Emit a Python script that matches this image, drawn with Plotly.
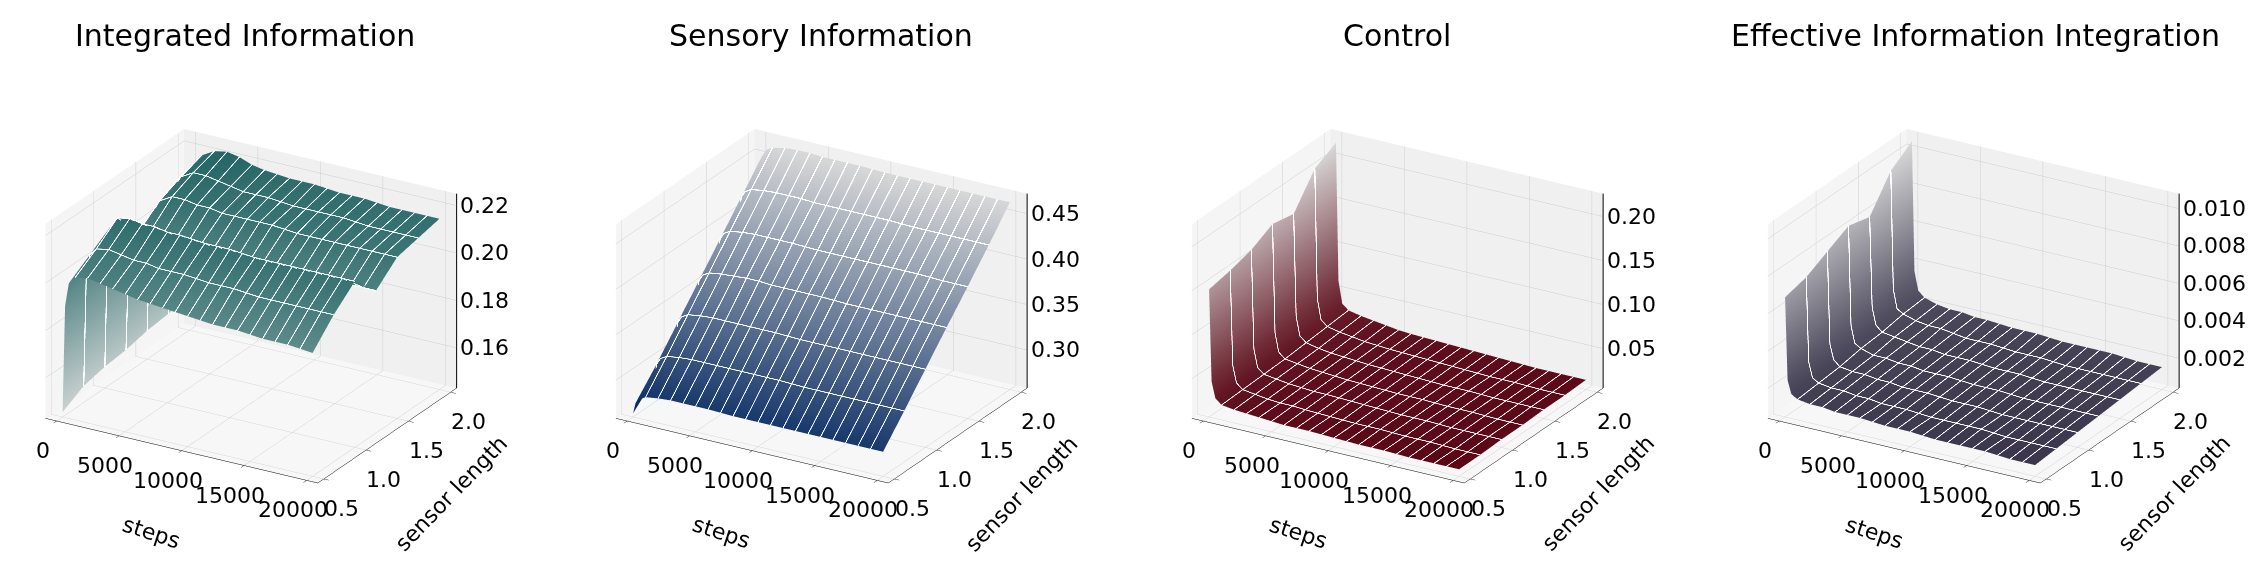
import plotly.graph_objects as go

# training steps (columns) and sensor lengths (rows)
steps = [0, 200, 500, 1000, 2000, 3000, 4000, 5000, 6000, 8000, 10000, 12000, 14000, 16000, 18000, 20000]
sensor_length = [0.5, 0.75, 1.0, 1.25, 1.5, 1.75, 2.0]

integrated_info = [
    [0.145, 0.190, 0.200, 0.203, 0.204, 0.203, 0.202, 0.201, 0.200, 0.199, 0.198, 0.197, 0.197, 0.196, 0.196, 0.195],
    [0.150, 0.196, 0.206, 0.209, 0.210, 0.209, 0.208, 0.208, 0.207, 0.207, 0.206, 0.206, 0.205, 0.205, 0.205, 0.205],
    [0.152, 0.200, 0.212, 0.216, 0.217, 0.216, 0.216, 0.215, 0.215, 0.214, 0.214, 0.213, 0.213, 0.213, 0.213, 0.213],
    [0.153, 0.190, 0.200, 0.204, 0.206, 0.206, 0.205, 0.205, 0.205, 0.204, 0.204, 0.204, 0.203, 0.203, 0.203, 0.203],
    [0.155, 0.195, 0.206, 0.211, 0.214, 0.214, 0.213, 0.213, 0.212, 0.212, 0.212, 0.211, 0.211, 0.211, 0.211, 0.211],
    [0.156, 0.198, 0.210, 0.215, 0.218, 0.218, 0.217, 0.216, 0.215, 0.215, 0.214, 0.214, 0.214, 0.213, 0.213, 0.213],
    [0.158, 0.200, 0.212, 0.218, 0.221, 0.222, 0.221, 0.219, 0.218, 0.217, 0.217, 0.216, 0.216, 0.215, 0.215, 0.215],
]

sensory_info = [
    [0.262, 0.274, 0.279, 0.283, 0.285, 0.286, 0.286, 0.286, 0.286, 0.285, 0.285, 0.285, 0.285, 0.285, 0.285, 0.285],
    [0.284, 0.301, 0.308, 0.312, 0.314, 0.315, 0.315, 0.315, 0.315, 0.315, 0.315, 0.314, 0.314, 0.314, 0.314, 0.314],
    [0.313, 0.331, 0.338, 0.342, 0.344, 0.345, 0.345, 0.345, 0.345, 0.345, 0.344, 0.344, 0.344, 0.344, 0.344, 0.344],
    [0.342, 0.361, 0.368, 0.372, 0.374, 0.375, 0.376, 0.376, 0.375, 0.375, 0.375, 0.374, 0.374, 0.374, 0.374, 0.374],
    [0.372, 0.391, 0.398, 0.402, 0.404, 0.405, 0.405, 0.405, 0.405, 0.404, 0.404, 0.404, 0.404, 0.404, 0.403, 0.403],
    [0.402, 0.421, 0.428, 0.432, 0.434, 0.435, 0.435, 0.435, 0.434, 0.434, 0.434, 0.434, 0.433, 0.433, 0.433, 0.433],
    [0.432, 0.451, 0.458, 0.462, 0.465, 0.466, 0.466, 0.465, 0.465, 0.465, 0.464, 0.464, 0.464, 0.464, 0.464, 0.464],
]

control = [
    [0.150, 0.046, 0.028, 0.022, 0.020, 0.019, 0.018, 0.017, 0.016, 0.016, 0.015, 0.014, 0.014, 0.013, 0.013, 0.013],
    [0.155, 0.048, 0.029, 0.023, 0.021, 0.019, 0.018, 0.018, 0.017, 0.016, 0.015, 0.015, 0.014, 0.014, 0.013, 0.013],
    [0.162, 0.050, 0.030, 0.024, 0.022, 0.020, 0.019, 0.018, 0.018, 0.017, 0.016, 0.015, 0.015, 0.014, 0.014, 0.014],
    [0.175, 0.052, 0.031, 0.025, 0.023, 0.021, 0.020, 0.019, 0.018, 0.017, 0.016, 0.016, 0.015, 0.015, 0.014, 0.014],
    [0.170, 0.054, 0.033, 0.027, 0.024, 0.022, 0.021, 0.020, 0.019, 0.018, 0.017, 0.016, 0.016, 0.015, 0.015, 0.015],
    [0.205, 0.058, 0.035, 0.029, 0.026, 0.024, 0.022, 0.021, 0.020, 0.019, 0.018, 0.017, 0.016, 0.016, 0.015, 0.015],
    [0.218, 0.062, 0.037, 0.031, 0.028, 0.026, 0.024, 0.022, 0.021, 0.020, 0.019, 0.018, 0.017, 0.016, 0.016, 0.016],
]

effective_integration = [
    [0.0068, 0.0024, 0.0017, 0.0015, 0.0014, 0.0014, 0.0013, 0.0013, 0.0013, 0.0012, 0.0012, 0.0011, 0.0011, 0.0011, 0.0010, 0.0010],
    [0.0071, 0.0026, 0.0018, 0.0016, 0.0015, 0.0015, 0.0014, 0.0014, 0.0013, 0.0013, 0.0012, 0.0012, 0.0012, 0.0011, 0.0011, 0.0011],
    [0.0077, 0.0028, 0.0020, 0.0017, 0.0016, 0.0016, 0.0015, 0.0015, 0.0014, 0.0014, 0.0013, 0.0013, 0.0012, 0.0012, 0.0012, 0.0012],
    [0.0083, 0.0030, 0.0021, 0.0019, 0.0017, 0.0017, 0.0016, 0.0016, 0.0015, 0.0015, 0.0014, 0.0014, 0.0013, 0.0013, 0.0013, 0.0013],
    [0.0080, 0.0032, 0.0023, 0.0020, 0.0019, 0.0018, 0.0017, 0.0017, 0.0016, 0.0016, 0.0015, 0.0015, 0.0014, 0.0014, 0.0014, 0.0014],
    [0.0097, 0.0034, 0.0024, 0.0022, 0.0020, 0.0019, 0.0019, 0.0018, 0.0017, 0.0017, 0.0016, 0.0016, 0.0015, 0.0015, 0.0015, 0.0015],
    [0.0105, 0.0036, 0.0026, 0.0023, 0.0021, 0.0020, 0.0020, 0.0019, 0.0019, 0.0018, 0.0018, 0.0017, 0.0017, 0.0017, 0.0016, 0.0016],
]

titles = ["Integrated Information", "Sensory Information", "Control", "Effective Information Integration"]
x_ticks = [0, 5000, 10000, 15000, 20000]
y_ticks = [0.5, 1.0, 1.5, 2.0]
z_ticks = [
    [0.16, 0.18, 0.20, 0.22],
    [0.30, 0.35, 0.40, 0.45],
    [0.05, 0.10, 0.15, 0.20],
    [0.002, 0.004, 0.006, 0.008, 0.010],
]
z_formats = ["{:.2f}", "{:.2f}", "{:.2f}", "{:.3f}"]
z_ranges = [[0.143, 0.225], [0.258, 0.472], [0.005, 0.226], [0.0004, 0.0108]]
x_range = [-900, 20900]
y_range = [0.43, 2.07]
colorscales = [
    [[0, "#eef7f7"], [1, "#2a7777"]],
    [[0, "#002a6e"], [1, "#ffffff"]],
    [[0, "#6a0a1a"], [1, "#ffffff"]],
    [[0, "#45405a"], [1, "#ffffff"]],
]
domains_x = [[0.0, 0.215], [0.25, 0.47], [0.505, 0.725], [0.76, 0.98]]
title_x = [0.105, 0.36, 0.615, 0.871]

font_family = "DejaVu Sans"
tick_size = 22
grid = "rgb(205,205,205)"
edge = "rgba(255,255,255,0.13)"

fig = go.Figure()
data = [integrated_info, sensory_info, control, effective_integration]


def ax(ticks, rng, bg, line=True):
    return dict(
        title=dict(text=""), tickvals=ticks, range=rng, showticklabels=False,
        showbackground=True, backgroundcolor=bg,
        gridcolor=grid, gridwidth=1,
        showline=line, linecolor="black", linewidth=1,
        zeroline=False, showspikes=False,
        ticks="outside" if line else "", tickcolor="black", ticklen=6,
    )


def label(x, y, z, text, dx, dy, anchor="center", angle=0):
    return dict(x=x, y=y, z=z, text=text, showarrow=False, textangle=angle,
                xanchor=anchor, yanchor="middle", xshift=dx, yshift=dy,
                font=dict(size=tick_size, family=font_family, color="black"))


for i, z in enumerate(data):
    scene = "scene" if i == 0 else f"scene{i + 1}"
    zr = z_ranges[i]
    # label anchors just inside the box so plotly does not drop them
    x_in = x_range[1] - 1
    y_lo, y_hi = y_range[0] + 0.001, y_range[1] - 0.001
    z_lo = zr[0] + (zr[1] - zr[0]) * 0.001

    fig.add_trace(go.Surface(
        x=steps, y=sensor_length, z=z,
        colorscale=colorscales[i], showscale=False,
        lighting=dict(ambient=0.85, diffuse=0.35, specular=0.02, roughness=0.9, fresnel=0.0),
        lightposition=dict(x=-1000, y=-2000, z=5000),
        contours=dict(
            x=dict(show=True, start=0, end=20000, size=1000, color=edge, width=1),
            y=dict(show=True, start=0.5, end=2.0, size=0.25, color=edge, width=1),
        ),
        scene=scene, hoverinfo="skip",
    ))
    # z axis line on the back right edge, as matplotlib draws it
    fig.add_trace(go.Scatter3d(
        x=[x_range[1], x_range[1]], y=[y_range[1], y_range[1]], z=zr,
        mode="lines", line=dict(color="black", width=2),
        scene=scene, hoverinfo="skip", showlegend=False,
    ))

    ann = []
    for t in x_ticks:
        ann.append(label(t, y_lo, z_lo, str(t), -14, -30))
    for t in y_ticks:
        ann.append(label(x_in, t, z_lo, f"{t:.1f}", 18, -30))
    for t in z_ticks[i]:
        ann.append(label(x_in, y_hi, t, z_formats[i].format(t), 2, 0, anchor="left"))
    ann.append(label(10000, y_lo, z_lo, "steps", -30, -82, angle=18))
    ann.append(label(x_in, 1.25, z_lo, "sensor length", 64, -58, angle=-46))

    fig.layout[scene] = dict(
        domain=dict(x=domains_x[i], y=[0.02, 0.92]),
        xaxis=ax(x_ticks, x_range, "rgb(245,245,245)"),
        yaxis=ax(y_ticks, y_range, "rgb(240,240,240)"),
        zaxis=ax(z_ticks[i], zr, "rgb(247,247,247)", line=False),
        aspectmode="manual", aspectratio=dict(x=1.25, y=1.08, z=0.84),
        camera=dict(
            eye=dict(x=0.565, y=-0.959, z=0.49),
            center=dict(x=0, y=0, z=0),
            up=dict(x=0, y=0, z=1),
            projection=dict(type="orthographic"),
        ),
        annotations=ann,
    )

    fig.add_annotation(
        text=titles[i], x=title_x[i], y=0.985, xref="paper", yref="paper",
        xanchor="center", yanchor="top", showarrow=False,
        font=dict(size=30, family=font_family, color="black"),
    )

fig.update_layout(
    width=2259, height=562,
    margin=dict(l=0, r=0, t=0, b=0),
    paper_bgcolor="white",
    font=dict(family=font_family, color="black"),
    showlegend=False,
)

fig.write_html("out.html")
